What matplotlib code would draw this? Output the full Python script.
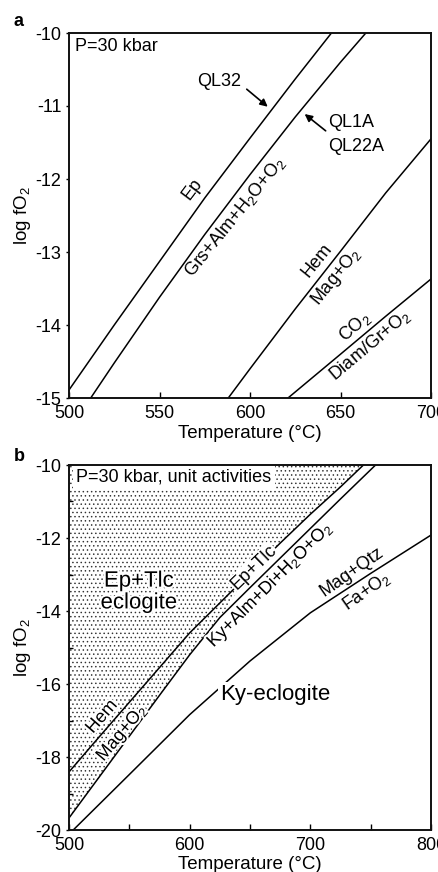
import numpy as np
import matplotlib
matplotlib.use('Agg')
import matplotlib.pyplot as plt
import matplotlib.patheffects as pe
from matplotlib.ticker import MultipleLocator

plt.rcParams['font.family'] = ['Liberation Sans', 'DejaVu Sans']
plt.rcParams['mathtext.fontset'] = 'custom'
plt.rcParams['mathtext.rm'] = 'Liberation Sans'
plt.rcParams['mathtext.default'] = 'rm'
plt.rcParams['axes.unicode_minus'] = False
plt.rcParams['hatch.linewidth'] = 0.55
plt.rcParams['hatch.color'] = '#333333'

# panel a: temperature (°C) vs log fO2, P = 30 kbar
ep_ql32_t = [500, 525, 550, 575, 600, 625, 645]
ep_ql32_f = [-14.89, -14.0, -13.13, -12.26, -11.44, -10.63, -10.0]
ep_ql1a_t = [512, 525, 550, 575, 600, 625, 650, 664]
ep_ql1a_f = [-15.0, -14.52, -13.62, -12.76, -11.94, -11.15, -10.40, -10.0]
hm_a_t = [588, 600, 625, 650, 675, 700]
hm_a_f = [-15.0, -14.60, -13.78, -12.99, -12.19, -11.45]
co2_t = [621, 650, 675, 700]
co2_f = [-15.0, -14.40, -13.88, -13.37]

# panel b: unit activities
hm_b_t = [500, 525, 550, 575, 600, 625, 650, 675, 700, 725, 744]
hm_b_f = [-18.41, -17.45, -16.50, -15.55, -14.60, -13.78, -12.96, -12.14, -11.35, -10.60, -10.0]
ky_t = [500, 525, 550, 575, 600, 625, 650, 675, 700, 725, 755]
ky_f = [-19.67, -18.55, -17.43, -16.31, -15.20, -14.18, -13.36, -12.55, -11.74, -10.93, -9.97]
fa_t = [503.5, 550, 600, 650, 700, 750, 800]
fa_f = [-20.0, -18.48, -16.84, -15.37, -14.05, -12.97, -11.92]

xticks_a = [500, 550, 600, 650, 700]
yticks_a = [-10, -11, -12, -13, -14, -15]
xticks_b = [500, 600, 700, 800]
yticks_b = [-10, -12, -14, -16, -18, -20]

FS = 13
LW = 1.1

fig = plt.figure(figsize=(4.38, 8.72), dpi=100)
ax_a = fig.add_axes([69 / 438, 1 - 398 / 872, 362 / 438, 365 / 872])
ax_b = fig.add_axes([69 / 438, 1 - 830 / 872, 362 / 438, 365 / 872])


def style_axis(ax):
    for s in ax.spines.values():
        s.set_linewidth(1.4)
        s.set_color('#111111')
        s.set_zorder(5)
    ax.tick_params(axis='x', which='both', direction='in', length=4, width=1,
                   labelsize=FS, pad=5, top=False)
    ax.tick_params(axis='y', which='major', direction='out', length=2.5, width=1,
                   labelsize=FS, pad=3, right=False)
    ax.tick_params(axis='y', which='minor', direction='in', length=3, width=1, right=False)
    ax.set_xlabel('Temperature (°C)', fontsize=13.5)
    ax.set_ylabel('log fO$_2$', fontsize=13.5)


# ---- panel a ----
ax = ax_a
ax.plot(ep_ql32_t, ep_ql32_f, color='k', lw=LW)
ax.plot(ep_ql1a_t, ep_ql1a_f, color='k', lw=LW)
ax.plot(hm_a_t, hm_a_f, color='k', lw=LW)
ax.plot(co2_t, co2_f, color='k', lw=LW)
ax.set_xlim(500, 700)
ax.set_ylim(-15, -10)
ax.set_xticks(xticks_a)
ax.set_yticks(yticks_a)
style_axis(ax)
ax.xaxis.set_label_coords(0.5, -0.075)
ax.yaxis.set_label_coords(-0.10, 0.5)

ax.text(503.3, -10.19, 'P=30 kbar', fontsize=FS, ha='left', va='center')
ax.text(568.4, -12.14, 'Ep', fontsize=FS, rotation=53, ha='center', va='center')
ax.text(591.6, -12.52, 'Grs+Alm+H$_2$O+O$_2$', fontsize=FS, rotation=51,
        ha='center', va='center')
ax.text(636.9, -13.11, 'Hem', fontsize=FS, rotation=51, ha='center', va='center')
ax.text(647.9, -13.34, 'Mag+O$_2$', fontsize=FS, rotation=51, ha='center', va='center')
ax.text(657.8, -14.03, 'CO$_2$', fontsize=FS, rotation=41, ha='center', va='center')
ax.text(666.1, -14.27, 'Diam/Gr+O$_2$', fontsize=FS, rotation=40, ha='center', va='center')

ax.text(582.8, -10.67, 'QL32', fontsize=FS, ha='center', va='center')
ax.text(642.9, -11.23, 'QL1A', fontsize=FS, ha='left', va='center')
ax.text(642.9, -11.56, 'QL22A', fontsize=FS, ha='left', va='center')
arrow = dict(arrowstyle='-|>', color='k', lw=1.2, mutation_scale=11,
             shrinkA=0, shrinkB=0)
ax.annotate('', xy=(609.8, -11.01), xytext=(598.2, -10.77), arrowprops=arrow)
ax.annotate('', xy=(630.2, -11.11), xytext=(641.8, -11.34), arrowprops=arrow)

# ---- panel b ----
ax = ax_b
ht, hf = np.array(hm_b_t), np.array(hm_b_f)
kt, kf = np.array(ky_t), np.array(ky_f)
upper = ht >= 650
lower = kt <= 625
poly_t = np.concatenate([[500], ht[upper][::-1], kt[lower][::-1]])
poly_f = np.concatenate([[-10], hf[upper][::-1], kf[lower][::-1]])
ax.fill(poly_t, poly_f, facecolor='white', edgecolor='#333333', hatch='....',
        linewidth=0, zorder=0)

ax.plot(hm_b_t, hm_b_f, color='k', lw=LW, zorder=2)
ax.plot(ky_t, ky_f, color='k', lw=LW, zorder=2)
ax.plot(fa_t, fa_f, color='k', lw=LW, zorder=2)
ax.set_xlim(500, 800)
ax.set_ylim(-20, -10)
ax.set_xticks(xticks_b)
ax.set_yticks(yticks_b)
ax.xaxis.set_minor_locator(MultipleLocator(50))
ax.yaxis.set_minor_locator(MultipleLocator(1))
style_axis(ax)
ax.xaxis.set_label_coords(0.5, -0.072)
ax.yaxis.set_label_coords(-0.10, 0.5)

halo = [pe.withStroke(linewidth=3, foreground='white')]
white_box = dict(facecolor='white', edgecolor='none', pad=1.5)

ax.text(505.8, -10.32, 'P=30 kbar, unit activities', fontsize=FS, ha='left',
        va='center', bbox=dict(facecolor='white', edgecolor='none', pad=2.5), zorder=4)
ax.text(558, -13.48, 'Ep+Tlc\neclogite', fontsize=16, ha='center', va='center',
        linespacing=1.05, path_effects=halo, zorder=4)
ax.text(670.7, -16.30, 'Ky-eclogite', fontsize=16, ha='center', va='center',
        bbox=white_box, zorder=4)
ax.text(527.3, -16.90, 'Hem', fontsize=FS, rotation=49, ha='center', va='center',
        path_effects=halo, zorder=4)
ax.text(543.9, -17.34, 'Mag+O$_2$', fontsize=FS, rotation=50, ha='center', va='center',
        path_effects=halo, zorder=4)
ax.text(652.9, -12.81, 'Ep+Tlc', fontsize=FS, rotation=44, ha='center', va='center',
        bbox=dict(facecolor='white', edgecolor='none', pad=0.5), zorder=4)
ax.text(666.5, -13.29, 'Ky+Alm+Di+H$_2$O+O$_2$', fontsize=FS, rotation=45,
        ha='center', va='center', path_effects=halo, zorder=4)
ax.text(734.5, -12.93, 'Mag+Qtz', fontsize=FS, rotation=35, ha='center', va='center')
ax.text(746.9, -13.45, 'Fa+O$_2$', fontsize=FS, rotation=35, ha='center', va='center')

fig.text(19 / 438, 1 - 22 / 872, 'a', fontsize=13, fontweight='bold', ha='center', va='center')
fig.text(19 / 438, 1 - 456 / 872, 'b', fontsize=13, fontweight='bold', ha='center', va='center')

fig.savefig('out.png', dpi=100)
